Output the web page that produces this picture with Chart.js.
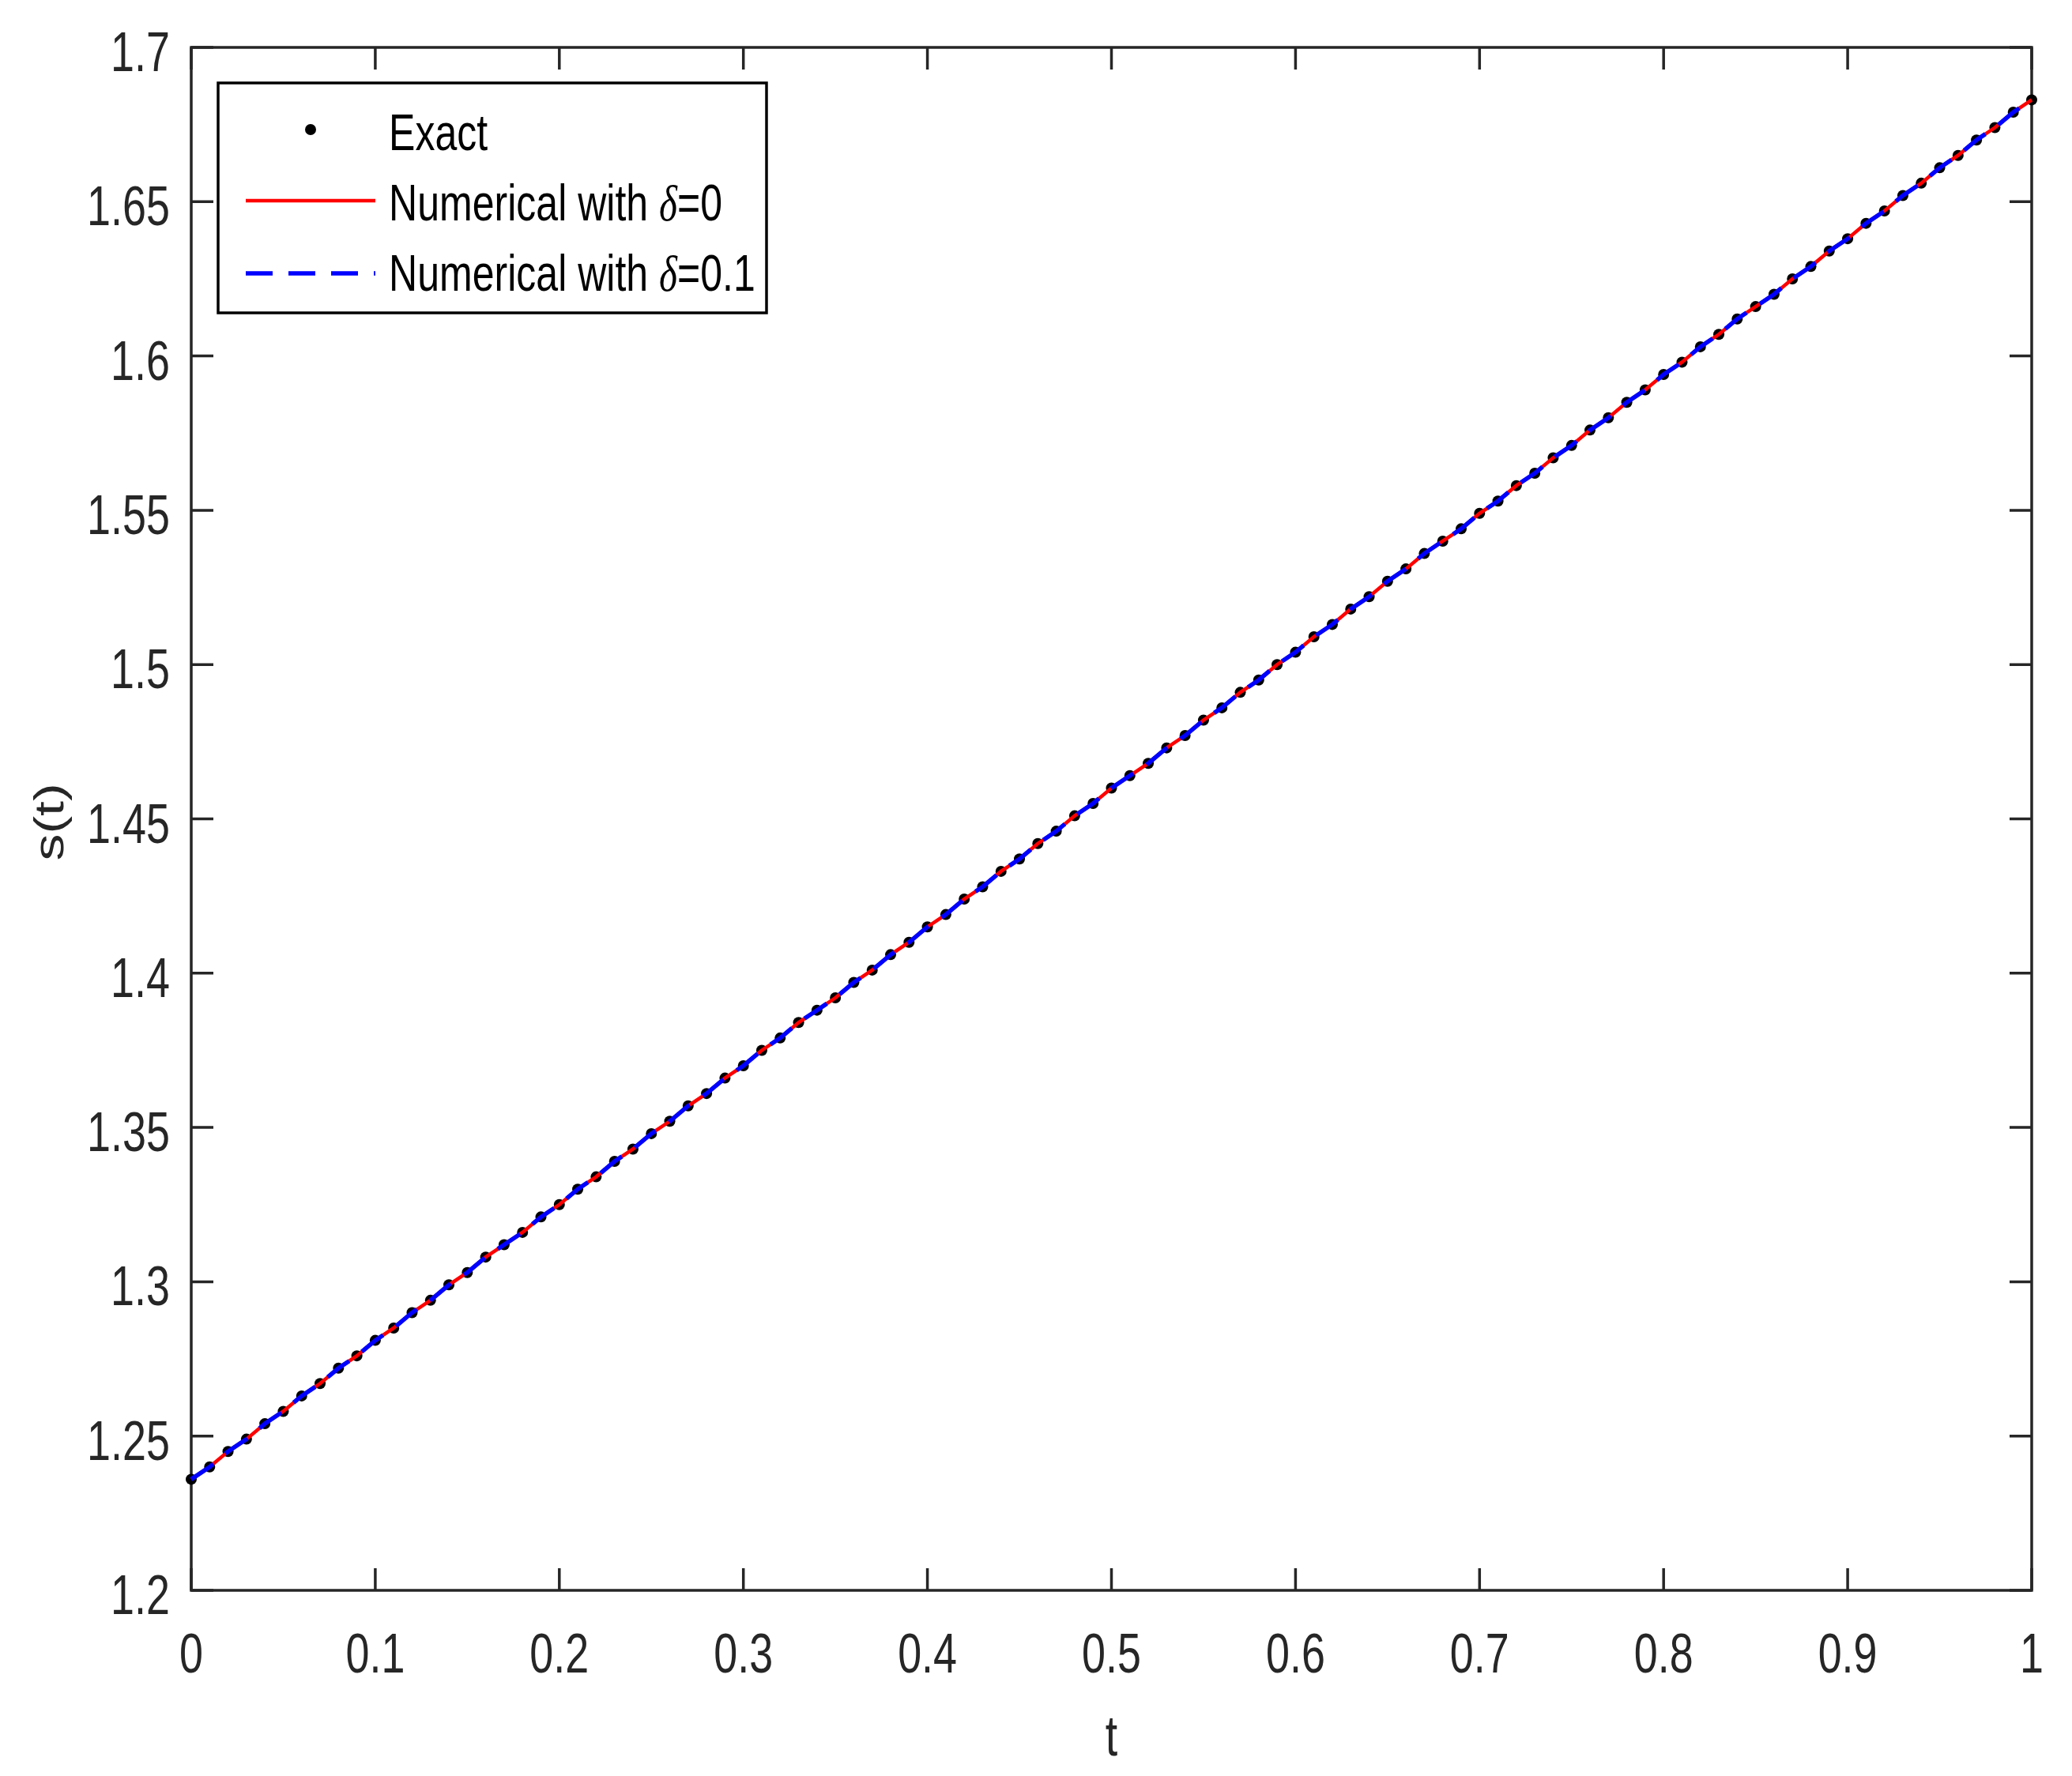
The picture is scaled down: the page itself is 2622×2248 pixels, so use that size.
<!DOCTYPE html>
<html>
<head>
<meta charset="utf-8">
<title>s(t) exact vs numerical</title>
<script src="https://cdn.jsdelivr.net/npm/chart.js@4.4.1/dist/chart.umd.min.js"></script>
<style>
  html, body { margin: 0; padding: 0; background: #ffffff; }
  #wrap { width: 2622px; height: 2248px; }
</style>
</head>
<body>
<div id="wrap"><canvas id="sChart" width="2622" height="2248"></canvas></div>
<script>
// t grid (101 nodes)
const tValues = [
    0.00, 0.01, 0.02, 0.03, 0.04, 0.05, 0.06, 0.07, 0.08, 0.09,
    0.10, 0.11, 0.12, 0.13, 0.14, 0.15, 0.16, 0.17, 0.18, 0.19,
    0.20, 0.21, 0.22, 0.23, 0.24, 0.25, 0.26, 0.27, 0.28, 0.29,
    0.30, 0.31, 0.32, 0.33, 0.34, 0.35, 0.36, 0.37, 0.38, 0.39,
    0.40, 0.41, 0.42, 0.43, 0.44, 0.45, 0.46, 0.47, 0.48, 0.49,
    0.50, 0.51, 0.52, 0.53, 0.54, 0.55, 0.56, 0.57, 0.58, 0.59,
    0.60, 0.61, 0.62, 0.63, 0.64, 0.65, 0.66, 0.67, 0.68, 0.69,
    0.70, 0.71, 0.72, 0.73, 0.74, 0.75, 0.76, 0.77, 0.78, 0.79,
    0.80, 0.81, 0.82, 0.83, 0.84, 0.85, 0.86, 0.87, 0.88, 0.89,
    0.90, 0.91, 0.92, 0.93, 0.94, 0.95, 0.96, 0.97, 0.98, 0.99,
    1.00
];

// exact s(t)
const exactS = [
    1.236, 1.240, 1.245, 1.249, 1.254, 1.258, 1.263, 1.267, 1.272, 1.276,
    1.281, 1.285, 1.290, 1.294, 1.299, 1.303, 1.308, 1.312, 1.316, 1.321,
    1.325, 1.330, 1.334, 1.339, 1.343, 1.348, 1.352, 1.357, 1.361, 1.366,
    1.370, 1.375, 1.379, 1.384, 1.388, 1.392, 1.397, 1.401, 1.406, 1.410,
    1.415, 1.419, 1.424, 1.428, 1.433, 1.437, 1.442, 1.446, 1.451, 1.455,
    1.460, 1.464, 1.468, 1.473, 1.477, 1.482, 1.486, 1.491, 1.495, 1.500,
    1.504, 1.509, 1.513, 1.518, 1.522, 1.527, 1.531, 1.536, 1.540, 1.544,
    1.549, 1.553, 1.558, 1.562, 1.567, 1.571, 1.576, 1.580, 1.585, 1.589,
    1.594, 1.598, 1.603, 1.607, 1.612, 1.616, 1.620, 1.625, 1.629, 1.634,
    1.638, 1.643, 1.647, 1.652, 1.656, 1.661, 1.665, 1.670, 1.674, 1.679,
    1.683
];

// numerical curves sit on top of the exact one at this scale
const numDelta0 = exactS;
const numDelta01 = exactS;

const xTicks = [0, 0.1, 0.2, 0.3, 0.4, 0.5, 0.6, 0.7, 0.8, 0.9, 1];
const xTickLabels = ['0', '0.1', '0.2', '0.3', '0.4', '0.5', '0.6', '0.7', '0.8', '0.9', '1'];
const yTicks = [1.2, 1.25, 1.3, 1.35, 1.4, 1.45, 1.5, 1.55, 1.6, 1.65, 1.7];
const yTickLabels = ['1.2', '1.25', '1.3', '1.35', '1.4', '1.45', '1.5', '1.55', '1.6', '1.65', '1.7'];

const xTitle = 't';
const yTitle = 's(t)';

const legendItems = [
    { kind: 'dot', pre: 'Exact', delta: '', post: '' },
    { kind: 'solid', pre: 'Numerical with ', delta: '\u03b4', post: '=0' },
    { kind: 'dashed', pre: 'Numerical with ', delta: '\u03b4', post: '=0.1' }
];

const AXIS = '#262626';
const SANS = "'Liberation Sans', Arial, Helvetica, sans-serif";
const SERIF_IT = "italic 64px 'Liberation Serif', 'DejaVu Serif', serif";
const SQUEEZE = 0.77; // the figure text is horizontally squeezed
const DASH = [34, 20];

// draw text squeezed horizontally around (x, y)
function narrowText(ctx, text, x, y, align, rot) {
    ctx.save();
    ctx.translate(x, y);
    ctx.scale(SQUEEZE, 1);
    if (rot) ctx.rotate(rot);
    ctx.textAlign = align;
    ctx.fillText(text, 0, 0);
    ctx.restore();
}

const toPts = (ys) => ys.map((y, i) => ({ x: tValues[i], y: y }));

// box, inward ticks on all four sides, tick labels and axis titles
const axesPlugin = {
    id: 'axesPlugin',
    beforeDatasetsDraw(chart) {
        const { ctx, chartArea: a, scales: { x, y } } = chart;
        const tl = 28;
        ctx.save();
        ctx.strokeStyle = AXIS;
        ctx.lineWidth = 3.5;
        ctx.beginPath();
        xTicks.forEach(v => {
            const px = x.getPixelForValue(v);
            ctx.moveTo(px, a.bottom); ctx.lineTo(px, a.bottom - tl);
            ctx.moveTo(px, a.top); ctx.lineTo(px, a.top + tl);
        });
        yTicks.forEach(v => {
            const py = y.getPixelForValue(v);
            ctx.moveTo(a.left, py); ctx.lineTo(a.left + tl, py);
            ctx.moveTo(a.right, py); ctx.lineTo(a.right - tl, py);
        });
        ctx.stroke();
        ctx.strokeRect(a.left, a.top, a.right - a.left, a.bottom - a.top);

        ctx.fillStyle = AXIS;
        ctx.textBaseline = 'alphabetic';
        ctx.font = '70px ' + SANS;
        xTicks.forEach((v, i) => {
            narrowText(ctx, xTickLabels[i], x.getPixelForValue(v), a.bottom + 104, 'center');
        });
        yTicks.forEach((v, i) => {
            narrowText(ctx, yTickLabels[i], a.left - 27, y.getPixelForValue(v) + 30, 'right');
        });
        ctx.font = '72px ' + SANS;
        narrowText(ctx, xTitle, (a.left + a.right) / 2, a.bottom + 209, 'center');
        ctx.font = '68px ' + SANS;
        narrowText(ctx, yTitle, 80, (a.top + a.bottom) / 2 + 4, 'center', -Math.PI / 2);
        ctx.restore();
    }
};

// legend box in the upper-left corner
const legendPlugin = {
    id: 'legendPlugin',
    afterDraw(chart) {
        const ctx = chart.ctx;
        const bx = 276, by = 105, bw = 694, bh = 291;
        const rowY = [164, 254, 346];
        const baseY = [190, 279, 368];
        const lx0 = 311, lx1 = 475, tx = 492;
        ctx.save();
        ctx.fillStyle = '#ffffff';
        ctx.fillRect(bx, by, bw, bh);
        ctx.strokeStyle = '#000000';
        ctx.lineWidth = 3.5;
        ctx.strokeRect(bx, by, bw, bh);
        legendItems.forEach((it, i) => {
            const ry = rowY[i];
            if (it.kind === 'dot') {
                ctx.fillStyle = '#000000';
                ctx.beginPath();
                ctx.arc((lx0 + lx1) / 2, ry, 7, 0, Math.PI * 2);
                ctx.fill();
            } else {
                ctx.strokeStyle = it.kind === 'solid' ? '#ff0000' : '#0000ff';
                ctx.lineWidth = it.kind === 'solid' ? 4.5 : 5.5;
                ctx.setLineDash(it.kind === 'solid' ? [] : DASH);
                ctx.beginPath();
                ctx.moveTo(lx0, ry); ctx.lineTo(lx1, ry);
                ctx.stroke();
                ctx.setLineDash([]);
            }
            ctx.fillStyle = '#000000';
            ctx.textBaseline = 'alphabetic';
            let cx = tx;
            ctx.font = '65px ' + SANS;
            narrowText(ctx, it.pre, cx, baseY[i], 'left');
            cx += ctx.measureText(it.pre).width * SQUEEZE;
            if (it.delta) {
                ctx.font = SERIF_IT;
                narrowText(ctx, it.delta, cx, baseY[i], 'left');
                cx += ctx.measureText(it.delta).width * SQUEEZE;
                ctx.font = '65px ' + SANS;
                narrowText(ctx, it.post, cx, baseY[i], 'left');
            }
        });
        ctx.restore();
    }
};

const ctxS = document.getElementById('sChart').getContext('2d');
const sChart = new Chart(ctxS, {
    type: 'line',
    data: {
        datasets: [
            {
                label: 'Numerical with \u03b4=0.1',
                data: toPts(numDelta01),
                borderColor: '#0000ff',
                borderWidth: 5.5,
                borderDash: DASH,
                pointRadius: 0,
                fill: false,
                tension: 0,
                clip: false,
                order: 0
            },
            {
                label: 'Numerical with \u03b4=0',
                data: toPts(numDelta0),
                borderColor: '#ff0000',
                borderWidth: 4.5,
                pointRadius: 0,
                fill: false,
                tension: 0,
                clip: false,
                order: 1
            },
            {
                label: 'Exact',
                data: toPts(exactS),
                showLine: false,
                pointRadius: 7,
                pointBackgroundColor: '#000000',
                pointBorderColor: '#000000',
                pointBorderWidth: 0,
                clip: false,
                order: 2
            }
        ]
    },
    options: {
        responsive: false,
        devicePixelRatio: 1,
        animation: false,
        events: [],
        layout: { padding: { left: 0, top: 60, right: 51, bottom: 0 } },
        scales: {
            x: {
                type: 'linear',
                min: 0,
                max: 1,
                afterFit: (s) => { s.height = 235; },
                afterBuildTicks: (s) => { s.ticks = xTicks.map(v => ({ value: v })); },
                grid: { display: false, drawTicks: false },
                border: { display: false },
                ticks: { display: false },
                title: { display: false }
            },
            y: {
                type: 'linear',
                min: 1.2,
                max: 1.7,
                afterFit: (s) => { s.width = 242; },
                afterBuildTicks: (s) => { s.ticks = yTicks.map(v => ({ value: v })); },
                grid: { display: false, drawTicks: false },
                border: { display: false },
                ticks: { display: false },
                title: { display: false }
            }
        },
        plugins: {
            legend: { display: false },
            tooltip: { enabled: false }
        }
    },
    plugins: [axesPlugin, legendPlugin]
});
</script>
</body>
</html>
